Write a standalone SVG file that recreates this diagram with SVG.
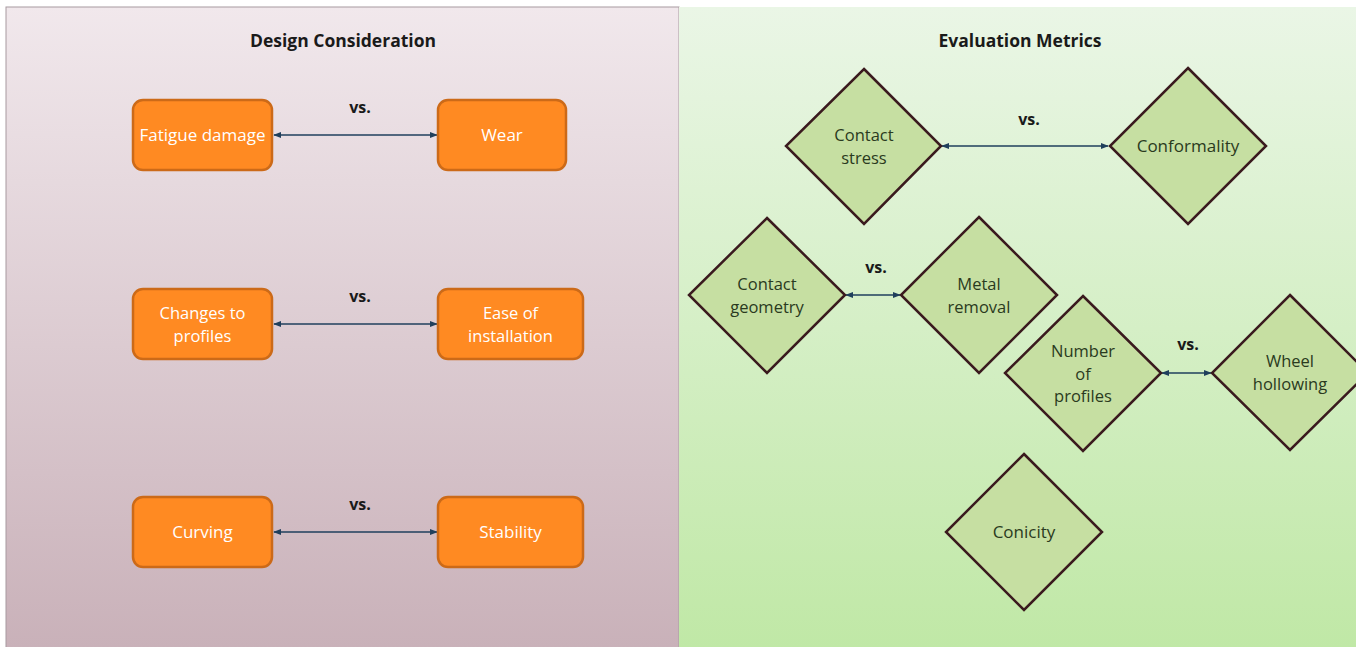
<svg xmlns="http://www.w3.org/2000/svg" width="1356" height="647" viewBox="0 0 1356 647">
<defs>
<linearGradient id="gl" x1="0" y1="0" x2="0" y2="1"><stop offset="0" stop-color="#F1E8EC"/><stop offset="1" stop-color="#C9B1B9"/></linearGradient>
<linearGradient id="gr" x1="0" y1="0" x2="0" y2="1"><stop offset="0" stop-color="#EAF6E6"/><stop offset="1" stop-color="#C0E8A6"/></linearGradient>
<marker id="ah" viewBox="0 0 10 10" refX="9" refY="5" markerWidth="8" markerHeight="8" orient="auto-start-reverse" markerUnits="userSpaceOnUse"><path d="M0,1 L10,5 L0,9 Z" fill="#1F3F5C"/></marker>
<style>
.box{fill:#FF8A22;stroke:#CC6A18;stroke-width:2.5}
.dia{fill:#C6DFA2;stroke:#3A1A1E;stroke-width:2.5}
.bt{font-family:"Open Sans","Liberation Sans",sans-serif;font-size:17px;fill:#FFFFFF;text-anchor:middle}
.dt{font-family:"Open Sans","Liberation Sans",sans-serif;font-size:17px;fill:#2A3A20;text-anchor:middle}
.bt2,.dt2{font-family:"Open Sans","Liberation Sans",sans-serif;font-size:16.5px;text-anchor:middle}
.bt2{fill:#FFFFFF}
.dt2{fill:#2A3A20}
.vs{font-family:"Open Sans","Liberation Sans",sans-serif;font-size:16px;font-weight:bold;fill:#1A1A1A;text-anchor:middle}
.title{font-family:"Open Sans","Liberation Sans",sans-serif;font-size:17.5px;font-weight:bold;fill:#1A1A1A;text-anchor:middle}
.con{stroke:#1F3F5C;stroke-width:1.5;fill:none;marker-start:url(#ah);marker-end:url(#ah)}
</style>
</defs>
<rect x="0" y="0" width="1356" height="647" fill="#FFFFFF"/>
<rect id="panel-left" x="6" y="7" width="673" height="641" fill="url(#gl)" stroke="#A89AA0" stroke-width="1"/>
<rect id="panel-right" x="679" y="7" width="678" height="641" fill="url(#gr)"/>
<text class="title" x="343" y="47">Design Consideration</text>
<text class="title" x="1020" y="47">Evaluation Metrics</text>

<g id="connectors">
<line class="con" x1="274" y1="135" x2="437" y2="135"/>
<line class="con" x1="274" y1="324" x2="437" y2="324"/>
<line class="con" x1="274" y1="532" x2="437" y2="532"/>
<line class="con" x1="942" y1="146" x2="1108" y2="146"/>
<line class="con" x1="846" y1="295" x2="900" y2="295"/>
<line class="con" x1="1162" y1="373" x2="1211" y2="373"/>
<text class="vs" x="360" y="113">vs.</text>
<text class="vs" x="360" y="302">vs.</text>
<text class="vs" x="360" y="510">vs.</text>
<text class="vs" x="1029" y="125">vs.</text>
<text class="vs" x="876" y="273">vs.</text>
<text class="vs" x="1188" y="350">vs.</text>
</g>

<g id="fatigue-damage"><rect class="box" x="133" y="100" width="139" height="70" rx="10"/><text class="bt" x="202.5" y="141">Fatigue damage</text></g>
<g id="wear"><rect class="box" x="438" y="100" width="128" height="70" rx="10"/><text class="bt" x="502" y="141">Wear</text></g>
<g id="changes-to-profiles"><rect class="box" x="133" y="289" width="139" height="70" rx="10"/><text class="bt2" x="202.5" y="319">Changes to</text><text class="bt2" x="202.5" y="341.5">profiles</text></g>
<g id="ease-of-installation"><rect class="box" x="438" y="289" width="145" height="70" rx="10"/><text class="bt2" x="510.5" y="319">Ease of</text><text class="bt2" x="510.5" y="341.5">installation</text></g>
<g id="curving"><rect class="box" x="133" y="497" width="139" height="70" rx="10"/><text class="bt" x="202.5" y="538">Curving</text></g>
<g id="stability"><rect class="box" x="438" y="497" width="145" height="70" rx="10"/><text class="bt" x="510.5" y="538">Stability</text></g>

<g id="contact-stress"><polygon class="dia" points="864,69 941,146 864,224 786,146"/><text class="dt2" x="864" y="141">Contact</text><text class="dt2" x="864" y="163.5">stress</text></g>
<g id="conformality"><polygon class="dia" points="1188,68 1266,146 1188,224 1110,146"/><text class="dt" x="1188" y="152">Conformality</text></g>
<g id="contact-geometry"><polygon class="dia" points="767,218 845,295 767,373 689,295"/><text class="dt2" x="767" y="290">Contact</text><text class="dt2" x="767" y="312.5">geometry</text></g>
<g id="metal-removal"><polygon class="dia" points="979,217 1057,295 979,373 901,295"/><text class="dt2" x="979" y="290">Metal</text><text class="dt2" x="979" y="312.5">removal</text></g>
<g id="number-of-profiles"><polygon class="dia" points="1083,296 1161,373 1083,451 1005,373"/><text class="dt2" x="1083" y="357">Number</text><text class="dt2" x="1083" y="379.5">of</text><text class="dt2" x="1083" y="402">profiles</text></g>
<g id="wheel-hollowing"><polygon class="dia" points="1290,295 1368,373 1290,450 1212,373"/><text class="dt2" x="1290" y="367">Wheel</text><text class="dt2" x="1290" y="389.5">hollowing</text></g>
<g id="conicity"><polygon class="dia" points="1024,454 1102,532 1024,610 946,532"/><text class="dt" x="1024" y="538">Conicity</text></g>
</svg>
